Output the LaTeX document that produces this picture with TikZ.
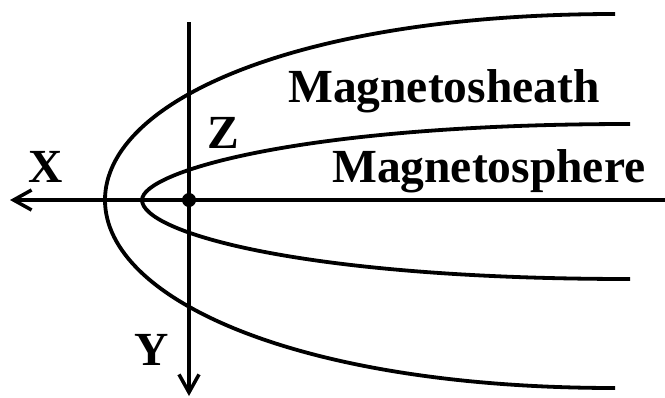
\documentclass[tikz,border=0pt]{standalone}
\usepackage{fontspec}
\setmainfont{Liberation Serif}
\usepackage{tikz}
\usetikzlibrary{arrows.meta}

\begin{document}
\begin{tikzpicture}[
  x=1bp, y=-1bp,
  axis/.style={line width=3.8bp, -{Straight Barb[length=18bp, width=20bp, line width=3.5bp]}},
  boundary/.style={line width=3.8bp},
  label/.style={font=\fontsize{47.5bp}{50bp}\selectfont\bfseries, inner sep=0pt, anchor=base west}
]
\useasboundingbox (0,0) rectangle (665,397);

% Axes
\coordinate (xstart) at (665,200);
\coordinate (xend) at (10,200);
\coordinate (ystart) at (189,22);
\coordinate (yend) at (189,396);
\draw[axis] (xstart) -- (xend);
\draw[axis] (ystart) -- (yend);
\node[circle, fill, inner sep=0pt, minimum size=14bp] (origin) at (189,200) {};

% Magnetopause (outer) and inner boundary
\draw[boundary] (615,14) .. controls (300,14) and (105,100) .. (105,200)
  .. controls (105,300) and (300,388) .. (615,388);
\draw[boundary] (630,124) .. controls (300,124) and (142,172) .. (142,200)
  .. controls (142,232) and (300,279) .. (630,279);

% Labels
\node[label] (sheath) at (288,102) {Magnetosheath};
\node[label] (sphere) at (332,182) {Magnetosphere};
\node[label, fill=white, inner sep=1.5bp] (zlab) at (206,148) {Z};
\node[label] (xlab) at (28,182) {X};
\node[label] (ylab) at (134,365) {Y};

\end{tikzpicture}
\end{document}
